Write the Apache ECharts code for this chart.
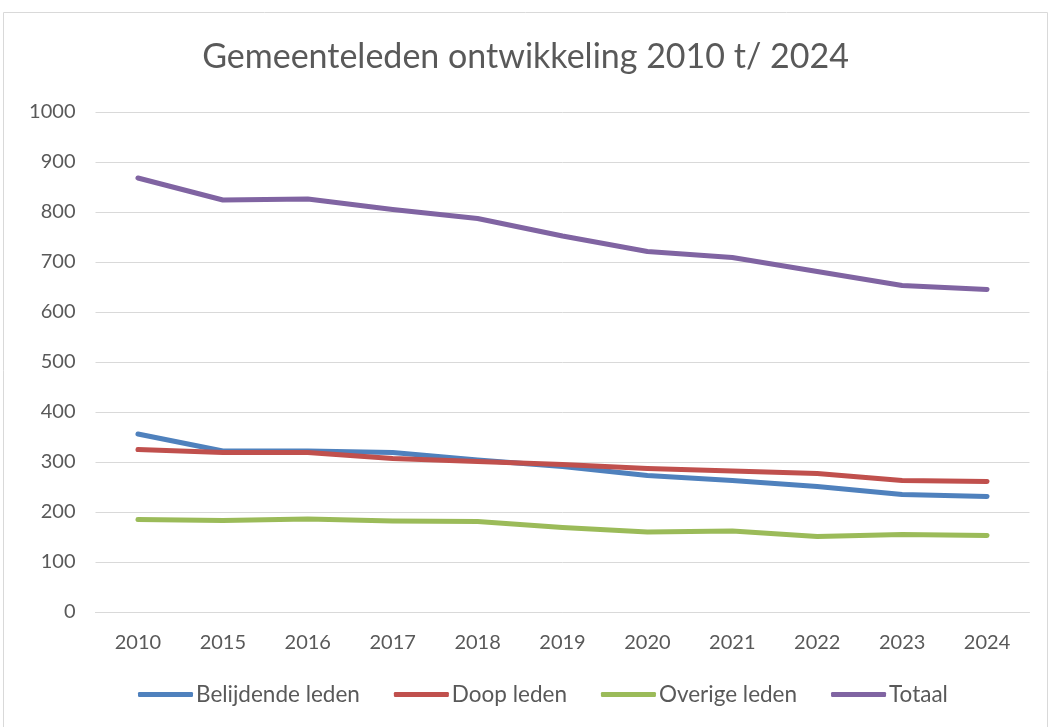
<!DOCTYPE html>
<html><head><meta charset="utf-8">
<script src="https://cdn.jsdelivr.net/npm/echarts@6/dist/echarts.min.js"></script>
<style>html,body{margin:0;padding:0;background:#fff}#c{width:1051px;height:727px}</style>
</head><body><div id="c"></div>
<script>
const categories = ['2010','2015','2016','2017','2018','2019','2020','2021','2022','2023','2024'];
const belijdende = [356, 322, 322, 319, 304, 291, 273, 263, 251, 235, 231];
const doop = [325, 319, 319, 307, 301, 295, 287, 282, 277, 263, 261];
const overige = [185, 183, 186, 182, 181, 169, 160, 162, 151, 155, 153];
const totaal = [868, 824, 826, 805, 787, 752, 721, 709, 681, 653, 645];
const seriesNames = ['Belijdende leden','Doop leden','Overige leden','Totaal'];
const colors = ['#4F81BD','#C0504D','#9BBB59','#8064A2'];
const font = 'Lato, "Open Sans", sans-serif';
const chart = echarts.init(document.getElementById('c'));
const mk = (name, data, i) => ({
  name, type: 'line', data, symbol: 'none', smooth: false,
  lineStyle: {width: 5, color: colors[i], cap: 'round', join: 'round'},
  itemStyle: {color: colors[i]}
});
chart.setOption({
  animation: false,
  graphic: [{type: 'rect', shape: {x: 3.5, y: 12.5, width: 1044, height: 720}, style: {fill: 'none', stroke: '#d9d9d9', lineWidth: 1}}],
  title: {text: 'Gemeenteleden ontwikkeling 2010 t/ 2024', left: 'center', top: 35,
    textStyle: {fontFamily: font, fontSize: 34, fontWeight: 'normal', color: '#595959'}},
  legend: {bottom: 16, left: 133, itemWidth: 55, itemHeight: 5, itemGap: 34, icon: 'roundRect',
    textStyle: {fontFamily: font, fontSize: 22.5, color: '#595959', padding: [0,0,0,-2]},
    data: seriesNames},
  grid: {left: 95.5, right: 21.5, top: 112, bottom: 115, containLabel: false},
  xAxis: {type: 'category', data: categories, boundaryGap: true,
    axisLine: {lineStyle: {color: '#d9d9d9', width: 1}}, axisTick: {show: false},
    axisLabel: {fontFamily: font, fontSize: 20, color: '#595959', margin: 21}},
  yAxis: {type: 'value', min: 0, max: 1000, interval: 100,
    axisLine: {show: false}, axisTick: {show: false},
    splitLine: {lineStyle: {color: '#d9d9d9', width: 1}},
    axisLabel: {fontFamily: font, fontSize: 20, color: '#595959', margin: 20, formatter: v => String(v)}},
  series: [mk(seriesNames[0], belijdende, 0), mk(seriesNames[1], doop, 1), mk(seriesNames[2], overige, 2), mk(seriesNames[3], totaal, 3)]
});
</script></body></html>
